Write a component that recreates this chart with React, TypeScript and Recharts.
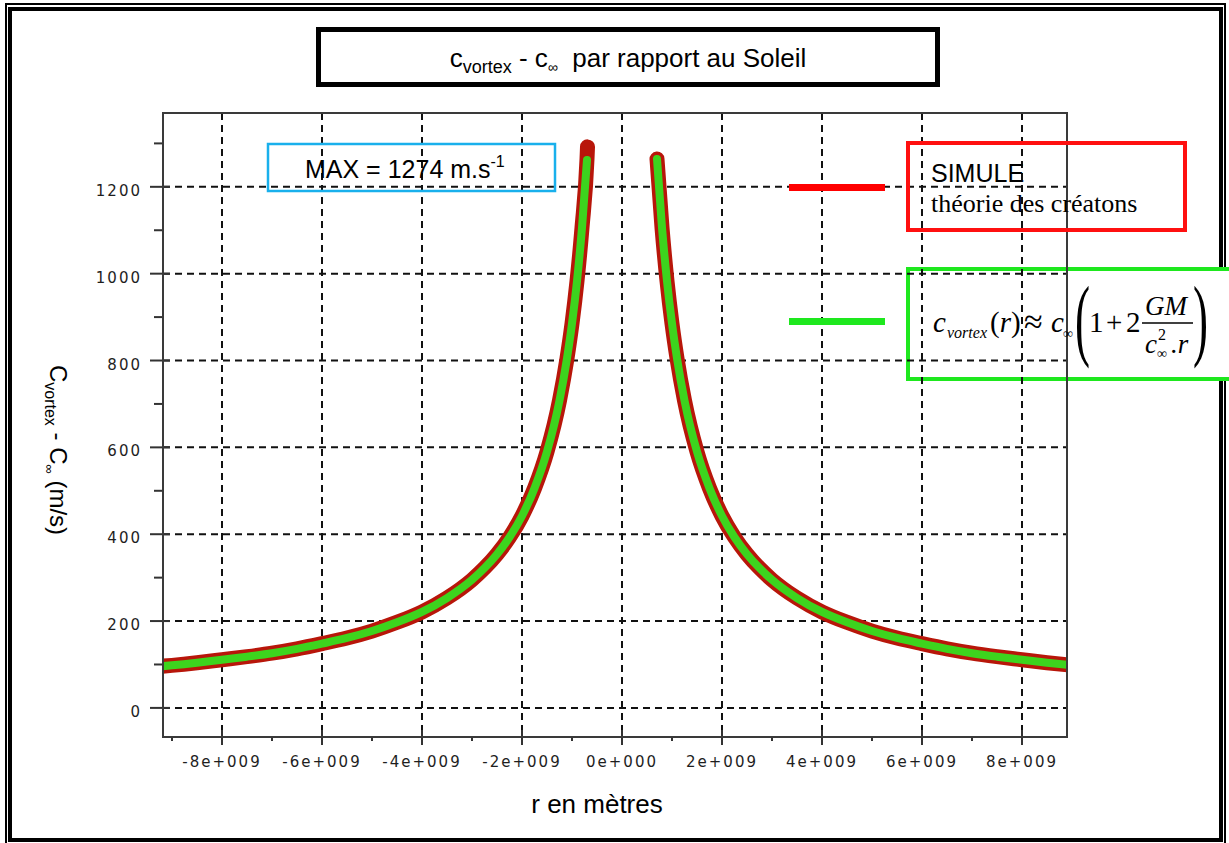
import React from "react";
import { LineChart, Line, XAxis, YAxis, CartesianGrid } from "recharts";

// r in metres, values in m/s (c_vortex - c_inf)
const rMetres = [
  -9.3e9, -9e9, -8.5e9, -8e9, -7.5e9, -7e9, -6.5e9, -6e9, -5.5e9, -5e9, -4.5e9, -4e9,
  -3.5e9, -3e9, -2.75e9, -2.5e9, -2.25e9, -2e9, -1.75e9, -1.5e9, -1.25e9, -1.1e9, -1e9,
  -0.9e9, -0.8e9, -0.7e9, -0.69e9,
  0,
  0.7e9, 0.8e9, 0.9e9, 1e9, 1.1e9, 1.25e9, 1.5e9, 1.75e9, 2e9, 2.25e9, 2.5e9, 2.75e9,
  3e9, 3.5e9, 4e9, 4.5e9, 5e9, 5.5e9, 6e9, 6.5e9, 7e9, 7.5e9, 8e9, 8.5e9, 9e9,
];

const simuleValues = [
  95, 98, 104, 111, 118, 126, 136, 148, 161, 177, 197, 221,
  253, 295, 322, 354, 393, 442, 506, 590, 708, 805, 885,
  983, 1106, 1264, 1292,
  null,
  1264, 1106, 983, 885, 805, 708, 590, 506, 442, 393, 354, 322,
  295, 253, 221, 197, 177, 161, 148, 136, 126, 118, 111, 104, 98,
];

const theorieValues = [
  95, 98, 104, 111, 118, 126, 136, 148, 161, 177, 197, 221,
  253, 295, 322, 354, 393, 442, 506, 590, 708, 805, 885,
  983, 1106, 1262, null,
  null,
  1264, 1106, 983, 885, 805, 708, 590, 506, 442, 393, 354, 322,
  295, 253, 221, 197, 177, 161, 148, 136, 126, 118, 111, 104, 98,
];

const xMajorTicks = [-8e9, -6e9, -4e9, -2e9, 0, 2e9, 4e9, 6e9, 8e9];
const xAllTicks = [-9e9, -8e9, -7e9, -6e9, -5e9, -4e9, -3e9, -2e9, -1e9, 0, 1e9, 2e9, 3e9, 4e9, 5e9, 6e9, 7e9, 8e9];
const yMajorTicks = [0, 200, 400, 600, 800, 1000, 1200];
const yAllTicks = [0, 100, 200, 300, 400, 500, 600, 700, 800, 900, 1000, 1100, 1200, 1300];

const chartData = rMetres.map((r, i) => ({
  r,
  simule: simuleValues[i],
  theorie: theorieValues[i],
}));

const tickFont = {
  fontFamily: "'DejaVu Sans', sans-serif",
  fontSize: 15,
  letterSpacing: 2,
  fill: "#1e1e1e",
};

function formatSci(v: number) {
  if (v === 0) return "0e+000";
  const exp = Math.floor(Math.log10(Math.abs(v)));
  const mant = Math.round(v / Math.pow(10, exp));
  return `${mant}e+${String(exp).padStart(3, "0")}`;
}

const XTick = (props: any) => {
  const { x, y, payload } = props;
  const major = xMajorTicks.includes(payload.value);
  return (
    <g>
      <line x1={x} x2={x} y1={major ? y - 7 : y} y2={major ? y + 8 : y + 4} stroke="#333" strokeWidth={2} />
      {major && (
        <text x={x} y={y + 30} textAnchor="middle" {...tickFont}>
          {formatSci(payload.value)}
        </text>
      )}
    </g>
  );
};

const YTick = (props: any) => {
  const { x, y, payload } = props;
  const major = yMajorTicks.includes(payload.value);
  return (
    <g>
      <line x1={major ? x - 13 : x - 9} x2={major ? x + 7 : x} y1={y} y2={y} stroke="#333" strokeWidth={2} />
      {major && (
        <text x={x - 21} y={y + 9} textAnchor="end" {...tickFont}>
          {payload.value}
        </text>
      )}
    </g>
  );
};

const sans = "'Liberation Sans', Arial, sans-serif";
const serif = "'Liberation Serif', 'Times New Roman', serif";

export default function App() {
  return (
    <div
      style={{
        position: "absolute",
        left: 0,
        top: 0,
        width: 1229,
        height: 843,
        background: "#fff",
        overflow: "hidden",
      }}
    >
      {/* double page border */}
      <div style={{ position: "absolute", left: 5, top: 3, width: 1221, height: 845, border: "2px solid #000", boxSizing: "border-box" }} />
      <div style={{ position: "absolute", left: 8, top: 7, width: 1215, height: 835, border: "4px solid #000", boxSizing: "border-box" }} />

      {/* green legend box (covers the page border on the right) */}
      <div
        style={{
          position: "absolute",
          left: 906,
          top: 267,
          width: 340,
          height: 114,
          border: "4px solid #1ee81e",
          background: "#fff",
          boxSizing: "border-box",
        }}
      />

      <div style={{ position: "absolute", left: 0, top: 0 }}>
        <LineChart width={1229} height={843} data={chartData} margin={{ top: 113, right: 162, bottom: 0, left: 0 }}>
          <CartesianGrid
            stroke="#111"
            strokeWidth={2}
            strokeDasharray="7 5"
            horizontalValues={yMajorTicks}
            verticalValues={xMajorTicks}
          />
          <XAxis
            dataKey="r"
            type="number"
            domain={[-9.18e9, 8.9e9]}
            allowDataOverflow
            ticks={xAllTicks}
            interval={0}
            height={106}
            axisLine={false}
            tickLine={false}
            tickSize={0}
            tickMargin={0}
            tick={<XTick />}
          />
          <YAxis
            type="number"
            domain={[-67, 1370]}
            allowDataOverflow
            ticks={yAllTicks}
            interval={0}
            width={163}
            axisLine={false}
            tickLine={false}
            tickSize={0}
            tickMargin={0}
            tick={<YTick />}
          />
          <Line
            dataKey="simule"
            type="monotone"
            stroke="#b8160a"
            strokeWidth={15}
            strokeLinecap="round"
            strokeLinejoin="round"
            dot={false}
            activeDot={false}
            isAnimationActive={false}
          />
          <Line
            dataKey="theorie"
            type="monotone"
            stroke="#3dd41e"
            strokeWidth={8}
            strokeLinecap="round"
            strokeLinejoin="round"
            dot={false}
            activeDot={false}
            isAnimationActive={false}
          />
        </LineChart>
      </div>

      {/* plot frame */}
      <div style={{ position: "absolute", left: 162, top: 112, width: 906, height: 626, border: "2px solid #3a3a3a", boxSizing: "border-box" }} />

      <svg width={1229} height={843} style={{ position: "absolute", left: 0, top: 0, pointerEvents: "none" }}>
        {/* title */}
        <rect x={318.5} y={29.5} width={619} height={55} fill="none" stroke="#000" strokeWidth={5} />
        <text x={628} y={67} textAnchor="middle" fontFamily={sans} fontSize={26} style={{ whiteSpace: "pre" }}>
          c<tspan fontSize={18} dy={6}>vortex</tspan>
          <tspan dy={-6}> - c</tspan>
          <tspan fontSize={14} dy={5}>∞</tspan>
          <tspan dy={-5}>  par rapport au Soleil</tspan>
        </text>

        {/* MAX box */}
        <rect x={268} y={144} width={287} height={47} fill="none" stroke="#19b0ec" strokeWidth={2.5} />
        <text x={305} y={178} fontFamily={sans} fontSize={25}>
          MAX = 1274 m.s<tspan fontSize={16} dy={-11}>-1</tspan>
        </text>

        {/* legend: SIMULE */}
        <rect x={789} y={184} width={96} height={7} fill="#ff0000" />
        <rect x={908} y={143} width={277} height={87} fill="none" stroke="#ff1010" strokeWidth={4} />
        <text x={931} y={182} fontFamily={sans} fontSize={25}>SIMULE</text>
        <text x={931} y={212} fontFamily={serif} fontSize={26}>théorie des créatons</text>

        {/* legend: formula */}
        <rect x={789} y={318} width={96} height={7} fill="#1ee81e" />
        <g fontFamily={serif} fill="#000">
          <text x={933} y={332} fontSize={29} fontStyle="italic">c</text>
          <text x={947} y={338} fontSize={16} fontStyle="italic">vortex</text>
          <text x={990} y={332} fontSize={29}>
            (<tspan fontStyle="italic">r</tspan>)
          </text>
          <text x={1024} y={333} fontSize={34}>≈</text>
          <text x={1051} y={332} fontSize={29} fontStyle="italic">c</text>
          <text x={1063} y={338} fontSize={14}>∞</text>
          <text transform="translate(1075,349) scale(0.5,1)" fontSize={90}>(</text>
          <text x={1089} y={332} fontSize={29}>1</text>
          <text x={1106} y={332} fontSize={29}>+</text>
          <text x={1126} y={332} fontSize={29}>2</text>
          <text x={1145} y={315} fontSize={27} fontStyle="italic">GM</text>
          <line x1={1142} x2={1193} y1={323} y2={323} stroke="#000" strokeWidth={1.3} />
          <text x={1145} y={353} fontSize={27} fontStyle="italic">c</text>
          <text x={1158} y={340} fontSize={16}>2</text>
          <text x={1157} y={358} fontSize={14}>∞</text>
          <text x={1171} y={353} fontSize={27} fontStyle="italic">.r</text>
          <text transform="translate(1193,349) scale(0.5,1)" fontSize={90}>)</text>
        </g>

        {/* axis titles */}
        <text transform="translate(50,450) rotate(90)" textAnchor="middle" fontFamily={sans} fontSize={24} style={{ whiteSpace: "pre" }}>
          C<tspan fontSize={16} dy={5}>vortex</tspan>
          <tspan dy={-5}> - C</tspan>
          <tspan fontSize={13} dy={5}>∞</tspan>
          <tspan dy={-5}> (m/s)</tspan>
        </text>
        <text x={597} y={813} textAnchor="middle" fontFamily={sans} fontSize={26}>r en mètres</text>
      </svg>
    </div>
  );
}
